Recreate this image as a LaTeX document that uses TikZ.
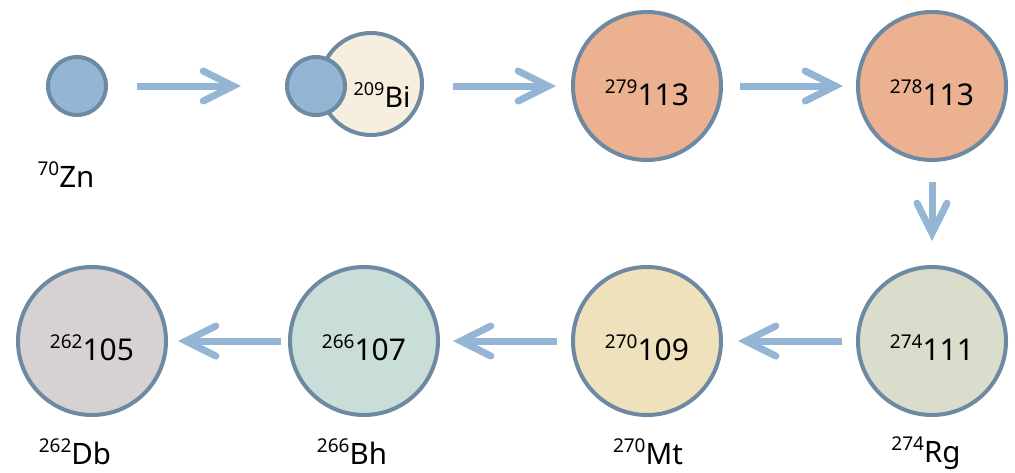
\documentclass[tikz,border=0pt]{standalone}
\usepackage{fontspec}
\setmainfont{Noto Sans}
\usetikzlibrary{arrows.meta}
\definecolor{bord}{HTML}{6E8AA3}
\definecolor{arrc}{HTML}{94B5D3}
\definecolor{blu}{HTML}{94B5D3}
\definecolor{bic}{HTML}{F6EFDF}
\definecolor{c113}{HTML}{EBB190}
\definecolor{c111}{HTML}{DADDCB}
\definecolor{c109}{HTML}{F0E1BD}
\definecolor{c107}{HTML}{C9DDD9}
\definecolor{c105}{HTML}{D6D2D2}
\newcommand\iso[3][19]{\raisebox{12pt}{\fontsize{#1}{#1}\selectfont #2}#3}
\begin{document}
\begin{tikzpicture}[x=1pt,y=-1pt,
 nuc/.style={circle, draw=bord, line width=4pt, inner sep=0pt, outer sep=2pt},
 big/.style={nuc, minimum size=148pt},
 small/.style={nuc, minimum size=58pt},
 num/.style={anchor=base, font=\fontsize{30}{30}\selectfont, inner sep=0pt},
 lab/.style={anchor=base, font=\fontsize{29.5}{30}\selectfont, inner sep=0pt},
 arr/.style={draw=arrc, line width=7pt, -{Straight Barb[length=30pt,width=30pt,line cap=round,line join=miter]}}
]
\useasboundingbox (0,0) rectangle (1015,472);
% top row
\node[small, fill=blu] (zn) at (77,86) {};
\node[nuc, minimum size=102pt, fill=bic] (bi) at (371,84) {};
\node[small, fill=blu] (bis) at (316,86) {};
\node[big, fill=c113] (c279) at (647,86) {};
\node[big, fill=c113] (c278) at (932,86) {};
% bottom row
\node[big, fill=c111] (c274) at (932,341) {};
\node[big, fill=c109] (c270) at (647,341) {};
\node[big, fill=c107] (c266) at (364,341) {};
\node[big, fill=c105] (c262) at (92,341) {};
% texts
\node[lab] (znl) at (66,187) {\iso{70}{Zn}};
\node[lab, font=\fontsize{28.5}{29}\selectfont] (bil) at (382,107) {\iso[18]{209}{Bi}};
\node[num] (t279) at (647,105) {\iso{279}{113}};
\node[num] (t278) at (932,105) {\iso{278}{113}};
\node[num] (t274) at (932,360) {\iso{274}{111}};
\node[num] (t270) at (647,360) {\iso{270}{109}};
\node[num] (t266) at (364,360) {\iso{266}{107}};
\node[num] (t262) at (92,360) {\iso{262}{105}};
\node[lab] (dbl) at (75,464) {\iso{262}{Db}};
\node[lab] (bhl) at (352,464) {\iso{266}{Bh}};
\node[lab] (mtl) at (648,464) {\iso{270}{Mt}};
\node[lab] (rgl) at (926,462) {\iso{274}{Rg}};
% arrows
\draw[arr, shorten <=29pt, shorten >=44pt] (zn) -- (bis);
\draw[arr, shorten <=29pt, shorten >=15pt] (bi.east |- c279.west) -- (c279.west);
\draw[arr, shorten <=17pt, shorten >=13pt] (c279) -- (c278);
\draw[arr, shorten <=20pt, shorten >=24pt] (c278) -- (c274);
\draw[arr, shorten <=14pt, shorten >=15pt] (c274) -- (c270);
\draw[arr, shorten <=14pt, shorten >=13pt] (c270) -- (c266);
\draw[arr, shorten <=7pt, shorten >=10pt] (c266) -- (c262);
\end{tikzpicture}
\end{document}
